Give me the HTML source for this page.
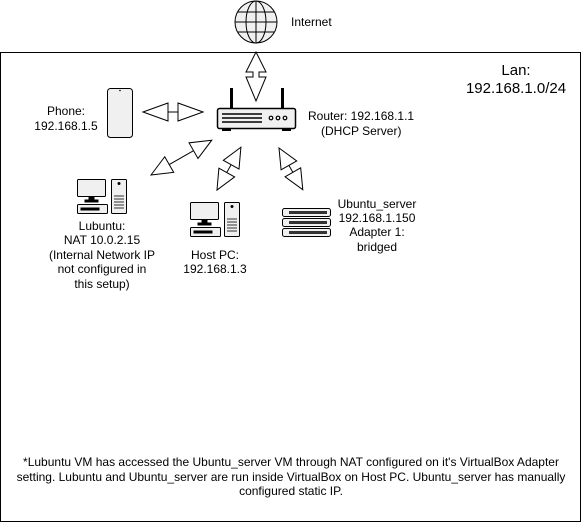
<!DOCTYPE html>
<html><head><style>
html,body{margin:0;padding:0;background:#fff;}
svg{display:block;font-family:"Liberation Sans",Arial,sans-serif;}
</style></head><body>
<svg width="583" height="523" viewBox="0 0 583 523" xmlns="http://www.w3.org/2000/svg">
<defs>
<g id="dh">
<!-- unit double arrow drawn per instance via polygons -->
</g>
</defs>
<rect x="0.5" y="52.5" width="580" height="469" fill="#fff" stroke="#000" stroke-width="1"/>

<!-- globe -->
<g stroke="#000" stroke-width="1" fill="#f0f0f0">
<circle cx="256" cy="22" r="21"/>
<ellipse cx="256" cy="22" rx="10" ry="21" fill="none"/>
<line x1="256" y1="1" x2="256" y2="43"/>
<line x1="235" y1="22" x2="277" y2="22"/>
<line x1="238" y1="12" x2="274" y2="12"/>
<line x1="238" y1="32" x2="274" y2="32"/>
</g>
<text x="291" y="26" font-size="12">Internet</text>

<!-- internet arrow -->
<polygon points="256,52 266,72 259,72 259,77 266,77 256,101 246,77 253,77 253,72 246,72" fill="#fff" stroke="#000"/>

<!-- phone -->
<rect x="107.5" y="88.5" width="25" height="49" rx="3" fill="#f0f0f0" stroke="#000"/>
<circle cx="120" cy="90.5" r="0.8" fill="#000"/>
<text font-size="12" text-anchor="middle"><tspan x="66" y="115">Phone:</tspan><tspan x="66" y="130">192.168.1.5</tspan></text>

<!-- phone arrow -->
<polygon points="143,112 168,103 168,121" fill="#fff" stroke="#000"/>
<polygon points="203,112 178,103 178,121" fill="#fff" stroke="#000"/>
<line x1="168" y1="112" x2="178" y2="112" stroke="#000"/>

<!-- router -->
<rect x="230" y="88" width="3" height="20" fill="#000"/>
<rect x="281" y="88" width="3" height="20" fill="#000"/>
<rect x="217.5" y="108.5" width="78" height="20" rx="2" fill="#f0f0f0" stroke="#000" stroke-width="1.5"/>
<rect x="222" y="128" width="9" height="3" fill="#000"/>
<rect x="282" y="128" width="9" height="3" fill="#000"/>
<g stroke="#000" stroke-width="1.5"><line x1="222" y1="114" x2="262" y2="114"/><line x1="222" y1="118" x2="262" y2="118"/><line x1="222" y1="122" x2="262" y2="122"/></g>
<g fill="none" stroke="#000" stroke-width="1.2"><circle cx="271" cy="118" r="1.8"/><circle cx="278" cy="118" r="1.8"/><circle cx="285" cy="118" r="1.8"/></g>
<text font-size="12"><tspan x="308" y="120">Router: 192.168.1.1</tspan><tspan x="321" y="135">(DHCP Server)</tspan></text>

<!-- diagonal arrows -->
<g transform="translate(151,175) rotate(-29.8)" fill="#fff" stroke="#000">
<polygon points="0,0 21,-9 21,9"/><polygon points="70,0 49,-9 49,9"/><line x1="21" y1="0" x2="49" y2="0"/>
</g>
<g transform="translate(217,190) rotate(-60.8)" fill="#fff" stroke="#000">
<polygon points="0,0 20,-9 20,9"/><polygon points="49,0 29,-9 29,9"/><line x1="20" y1="0" x2="29" y2="0"/>
</g>
<g transform="translate(279,148) rotate(60.3)" fill="#fff" stroke="#000">
<polygon points="0,0 20,-9 20,9"/><polygon points="48,0 28,-9 28,9"/><line x1="20" y1="0" x2="28" y2="0"/>
</g>

<!-- Lubuntu PC -->
<g stroke="#000" stroke-width="1">
<rect x="77.5" y="179.5" width="28" height="17" rx="1" fill="#f0f0f0"/>
<rect x="89" y="197" width="5" height="3" fill="#000"/>
<rect x="85" y="200" width="13" height="2" fill="#000"/>
<rect x="77.5" y="204.5" width="30" height="9" rx="1" fill="#f0f0f0"/>
<rect x="81" y="208" width="18" height="2" fill="#000"/>
<rect x="111.5" y="179.5" width="15" height="34" rx="1" fill="#f0f0f0"/>
<circle cx="119" cy="183.5" r="1" fill="#000"/>
<g stroke-width="0.8"><line x1="114" y1="196" x2="124" y2="196"/><line x1="114" y1="199" x2="124" y2="199"/><line x1="114" y1="202" x2="124" y2="202"/><line x1="114" y1="205" x2="124" y2="205"/><line x1="114" y1="208" x2="124" y2="208"/></g>
</g>
<text font-size="12" text-anchor="middle"><tspan x="102" y="230">Lubuntu:</tspan><tspan x="102" y="244">NAT 10.0.2.15</tspan><tspan x="102" y="259">(Internal Network IP</tspan><tspan x="102" y="273">not configured in</tspan><tspan x="102" y="288">this setup)</tspan></text>

<!-- Host PC -->
<g stroke="#000" stroke-width="1" transform="translate(113,23)">
<rect x="77.5" y="179.5" width="28" height="17" rx="1" fill="#f0f0f0"/>
<rect x="89" y="197" width="5" height="3" fill="#000"/>
<rect x="85" y="200" width="13" height="2" fill="#000"/>
<rect x="77.5" y="204.5" width="30" height="9" rx="1" fill="#f0f0f0"/>
<rect x="81" y="208" width="18" height="2" fill="#000"/>
<rect x="111.5" y="179.5" width="15" height="34" rx="1" fill="#f0f0f0"/>
<circle cx="119" cy="183.5" r="1" fill="#000"/>
<g stroke-width="0.8"><line x1="114" y1="196" x2="124" y2="196"/><line x1="114" y1="199" x2="124" y2="199"/><line x1="114" y1="202" x2="124" y2="202"/><line x1="114" y1="205" x2="124" y2="205"/><line x1="114" y1="208" x2="124" y2="208"/></g>
</g>
<text font-size="12" text-anchor="middle"><tspan x="215" y="259">Host PC:</tspan><tspan x="215" y="273">192.168.1.3</tspan></text>

<!-- server -->
<g stroke="#000" stroke-width="1" fill="#f0f0f0">
<rect x="282.5" y="208.5" width="48" height="8" rx="2"/>
<rect x="282.5" y="218.5" width="48" height="8" rx="2"/>
<rect x="282.5" y="228.5" width="48" height="8" rx="2"/>
</g>
<g fill="#333"><rect x="289" y="211" width="38" height="3"/><rect x="289" y="221" width="38" height="3"/><rect x="289" y="231" width="38" height="3"/></g>
<text font-size="12" text-anchor="middle"><tspan x="377" y="208">Ubuntu_server</tspan><tspan x="377" y="222">192.168.1.150</tspan><tspan x="377" y="236">Adapter 1:</tspan><tspan x="377" y="251">bridged</tspan></text>

<text font-size="15" text-anchor="middle"><tspan x="516" y="75">Lan:</tspan><tspan x="516" y="93">192.168.1.0/24</tspan></text>

<text font-size="12" text-anchor="middle"><tspan x="291" y="466">*Lubuntu VM has accessed the Ubuntu_server VM through NAT configured on it's VirtualBox Adapter</tspan><tspan x="291" y="481">setting. Lubuntu and Ubuntu_server are run inside VirtualBox on Host PC. Ubuntu_server has manually</tspan><tspan x="291" y="495">configured static IP.</tspan></text>
</svg>
</body></html>
